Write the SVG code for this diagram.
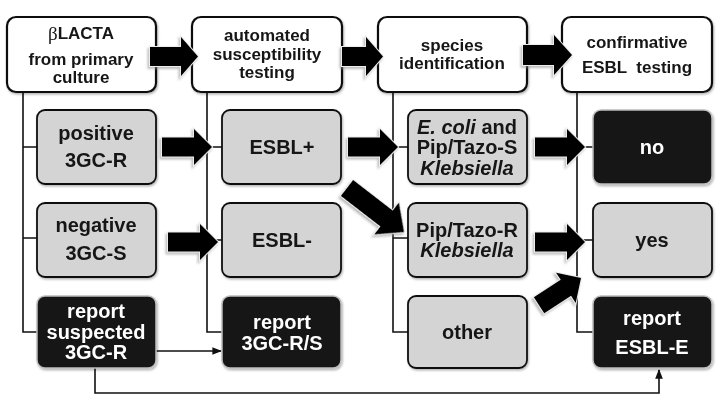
<svg xmlns="http://www.w3.org/2000/svg" width="720" height="405" viewBox="0 0 720 405">
<defs>
<style>
.w{fill:#fff;stroke:#111;stroke-width:2.2}
.g{fill:#d4d4d4;stroke:#111;stroke-width:1.8}
.k{fill:#161616;stroke:#bdbdbd;stroke-width:1.5}
text{font-family:"Liberation Sans",Arial,sans-serif;font-weight:bold;text-anchor:middle;dominant-baseline:central;fill:#151515}
.t17{font-size:17px}
.t20{font-size:20px}
.wt{fill:#fff}
.ln{fill:none;stroke:#111;stroke-width:1.6}
.ar{fill:#000;stroke:#ececec;stroke-width:2;paint-order:stroke}
</style>
<filter id="sh" x="-20%" y="-20%" width="140%" height="140%"><feDropShadow dx="1" dy="1.5" stdDeviation="1.2" flood-color="#000" flood-opacity="0.3"/></filter>
<filter id="ash" x="-30%" y="-30%" width="160%" height="160%"><feDropShadow dx="-1.5" dy="2" stdDeviation="1.2" flood-color="#888" flood-opacity="0.55"/></filter>
<path id="arr" d="M-50,-9.5 H-18 V-18 L0,0 L-18,18 V9.5 H-50 Z"/>
<path id="arrL" d="M-72,-10 H-22 V-20 L0,0 L-22,20 V10 H-72 Z"/>
<marker id="mh" viewBox="0 0 10 10" refX="9" refY="5" markerWidth="6" markerHeight="6" orient="auto"><path d="M0,1 L10,5 L0,9 Z" fill="#111"/></marker>
</defs>

<g id="connectors">
<path class="ln" d="M23,92 V332 H37 M23,147 H37 M23,238 H37"/>
<path class="ln" d="M207,92 V332 H222 M207,147 H222 M207,240 H222"/>
<path class="ln" d="M393,92 V332 H408 M393,147 H408 M393,238 H408"/>
<path class="ln" d="M577,92 V332 H593 M577,147 H593 M577,240 H593"/>
<path class="ln" d="M156,351 H221" marker-end="url(#mh)" stroke-width="1.2"/>
<path class="ln" d="M95,368 V393 H659 V370" marker-end="url(#mh)" stroke-width="1.4"/>
</g>

<g id="n-blacta" filter="url(#sh)"><rect class="w" x="7" y="17" width="149" height="75" rx="9"/>
<text class="t17" x="81" y="33"><tspan font-family="'Liberation Serif',serif" font-weight="normal" font-size="19">β</tspan>LACTA</text>
<text class="t17" x="81" y="59">from primary</text><text class="t17" x="81" y="77">culture</text></g>

<g id="n-ast" filter="url(#sh)"><rect class="w" x="192" y="17" width="150" height="75" rx="9"/>
<text class="t17" x="267" y="35">automated</text><text class="t17" x="267" y="54">susceptibility</text><text class="t17" x="267" y="72">testing</text></g>

<g id="n-species" filter="url(#sh)"><rect class="w" x="378" y="17" width="149" height="75" rx="9"/>
<text class="t17" x="452" y="45">species</text><text class="t17" x="452" y="63">identification</text></g>

<g id="n-confirm" filter="url(#sh)"><rect class="w" x="562" y="17" width="150" height="75" rx="9"/>
<text class="t17" x="637" y="42">confirmative</text><text class="t17" x="637" y="67" xml:space="preserve">ESBL  testing</text></g>

<g id="n-positive" filter="url(#sh)"><rect class="g" x="37" y="110" width="119" height="74" rx="8"/>
<text class="t20" x="96" y="133">positive</text><text class="t20" x="96" y="160">3GC-R</text></g>

<g id="n-esblpos" filter="url(#sh)"><rect class="g" x="222" y="110" width="119" height="74" rx="8"/>
<text class="t20" x="282" y="147">ESBL+</text></g>

<g id="n-ecoli" filter="url(#sh)"><rect class="g" x="408" y="110" width="119" height="74" rx="8"/>
<text class="t20" x="467" y="127"><tspan font-style="italic">E. coli</tspan> and</text>
<text class="t20" x="467" y="147">Pip/Tazo-S</text>
<text class="t20" x="467" y="168" font-style="italic">Klebsiella</text></g>

<g id="n-no" filter="url(#sh)"><rect class="k" x="593" y="110" width="119" height="74" rx="8"/>
<text class="t20 wt" x="652" y="147">no</text></g>

<g id="n-negative" filter="url(#sh)"><rect class="g" x="37" y="203" width="119" height="74" rx="8"/>
<text class="t20" x="96" y="225">negative</text><text class="t20" x="96" y="253">3GC-S</text></g>

<g id="n-esblneg" filter="url(#sh)"><rect class="g" x="222" y="203" width="119" height="74" rx="8"/>
<text class="t20" x="282" y="240">ESBL-</text></g>

<g id="n-piptazor" filter="url(#sh)"><rect class="g" x="408" y="203" width="119" height="74" rx="8"/>
<text class="t20" x="467" y="230">Pip/Tazo-R</text>
<text class="t20" x="467" y="250" font-style="italic">Klebsiella</text></g>

<g id="n-yes" filter="url(#sh)"><rect class="g" x="593" y="203" width="119" height="74" rx="8"/>
<text class="t20" x="652" y="240">yes</text></g>

<g id="n-report1" filter="url(#sh)"><rect class="k" x="37" y="296" width="119" height="72" rx="8"/>
<text class="t20 wt" x="96" y="311">report</text><text class="t20 wt" x="96" y="332">suspected</text><text class="t20 wt" x="96" y="352">3GC-R</text></g>

<g id="n-report2" filter="url(#sh)"><rect class="k" x="222" y="296" width="119" height="72" rx="8"/>
<text class="t20 wt" x="282" y="322">report</text><text class="t20 wt" x="282" y="343">3GC-R/S</text></g>

<g id="n-other" filter="url(#sh)"><rect class="g" x="408" y="296" width="119" height="72" rx="8"/>
<text class="t20" x="467" y="332">other</text></g>

<g id="n-report3" filter="url(#sh)"><rect class="k" x="593" y="296" width="119" height="72" rx="8"/>
<text class="t20 wt" x="652" y="318">report</text><text class="t20 wt" x="652" y="347">ESBL-E</text></g>

<g id="block-arrows" filter="url(#ash)">
<path class="ar" d="M150,47 H181 V37 L198,56.5 L181,76 V66 H150 Z"/>
<path class="ar" d="M342,47 H366 V37 L383,56.5 L366,76 V66 H342 Z"/>
<path class="ar" d="M523,45 H554 V35 L572,55 L554,75 V65 H523 Z"/>
<use href="#arr" class="ar" transform="translate(212,147)"/>
<use href="#arr" class="ar" transform="translate(398,147)"/>
<use href="#arr" class="ar" transform="translate(585,147)"/>
<use href="#arr" class="ar" transform="translate(218,242)"/>
<use href="#arr" class="ar" transform="translate(585,242)"/>
<use href="#arrL" class="ar" transform="translate(404,232) rotate(37.7)"/>
<use href="#arr" class="ar" transform="translate(581,278) rotate(-33)"/>
</g>
</svg>
